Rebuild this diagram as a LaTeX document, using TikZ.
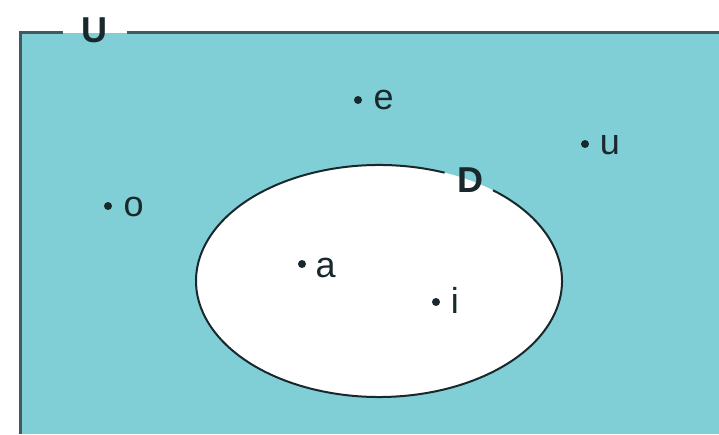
\documentclass[tikz,border=0pt]{standalone}
\usepackage{fontspec}
\setmainfont{Liberation Sans}
\begin{document}
\begin{tikzpicture}[x=1pt,y=1pt]
\definecolor{teal1}{RGB}{128,207,215}
\definecolor{edge1}{RGB}{65,90,96}
\definecolor{ink1}{RGB}{25,40,44}
\tikzset{
  lbl/.style={anchor=base west,inner sep=0pt,text=ink1,font=\fontsize{36}{40}\selectfont},
  setname/.style={inner sep=0pt,text=ink1,font=\fontsize{36}{40}\selectfont\bfseries},
  pt/.style={fill=ink1,draw=none}
}
\useasboundingbox (0,0) rectangle (719,434);
% universe
\fill[teal1] (20,0) rectangle (719,401);
\draw[edge1,line width=3pt] (20,0) -- (20,401) -- (63,401);
\draw[edge1,line width=3pt] (127,401) -- (719,401);
\node[setname] (U) at (94,404) {U};
% set D
\fill[white] (379,153) ellipse [x radius=183, y radius=116];
\draw[ink1,line width=2pt] (444.6,261.3) arc [start angle=69, end angle=411.5, x radius=183, y radius=116];
\node[setname] (D) at (470,254) {D};
% elements
\fill[pt] (358,334) circle (4pt) coordinate (pe);
\node[lbl] (le) at (373.5,324) {e};
\fill[pt] (585,290) circle (4pt) coordinate (pu);
\node[lbl] (lu) at (599.6,279) {u};
\fill[pt] (108,228) circle (4pt) coordinate (po);
\node[lbl] (lo) at (123.5,217.5) {o};
\fill[pt] (302,170) circle (4pt) coordinate (pa);
\node[lbl] (la) at (315.5,157) {a};
\fill[pt] (436,132) circle (4pt) coordinate (pi);
\node[lbl] (li) at (450.6,121) {i};
\end{tikzpicture}
\end{document}
